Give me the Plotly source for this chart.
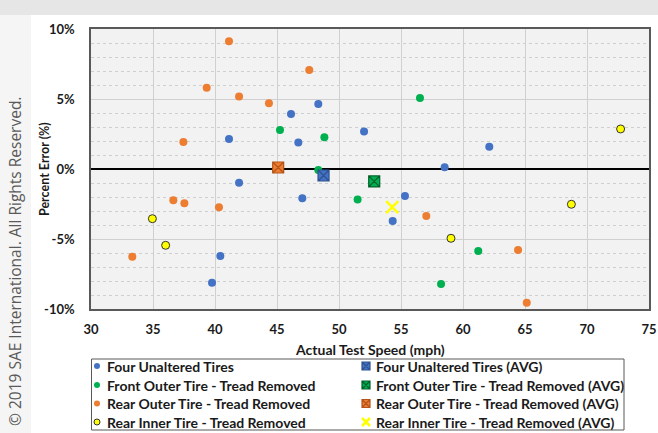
import numpy as np
import plotly.graph_objects as go

# Measured speed (mph) vs. speedometer percent error, per tire configuration
four_x = [48.33, 46.13, 41.13, 46.72, 52.02, 62.12, 58.52, 41.94, 47.04, 55.32, 54.33, 40.43, 39.76]
four_y = [4.64, 3.93, 2.14, 1.90, 2.67, 1.59, 0.12, -0.98, -2.09, -1.93, -3.71, -6.21, -8.12]

front_x = [45.24, 48.82, 48.33, 56.53, 51.50, 61.23, 58.23]
front_y = [2.79, 2.26, -0.07, 5.07, -2.17, -5.86, -8.21]

rear_outer_x = [41.13, 47.60, 39.33, 41.94, 44.35, 37.45, 36.64, 37.53, 40.32, 33.33, 57.04, 64.44, 65.14]
rear_outer_y = [9.12, 7.07, 5.81, 5.17, 4.69, 1.93, -2.24, -2.45, -2.74, -6.26, -3.36, -5.79, -9.55]

rear_inner_x = [72.71, 34.95, 36.02, 68.74, 59.03]
rear_inner_y = [2.86, -3.55, -5.45, -2.52, -4.95]

series_names = [
    "Four Unaltered Tires",
    "Front Outer Tire - Tread Removed",
    "Rear Outer Tire - Tread Removed",
    "Rear Inner Tire - Tread Removed",
]

x_ticks = [30, 35, 40, 45, 50, 55, 60, 65, 70, 75]
y_ticks = [-10, -5, 0, 5, 10]
y_tick_labels = ["-10%", "-5%", "0%", "5%", "10%"]

FONT = "Lato"
INK = "#1a1a1a"
W, H = 658, 433

# plot frame and key box, in page pixels
PLOT_L, PLOT_R, PLOT_T, PLOT_B = 91, 649, 29, 309
KEY_L, KEY_R, KEY_T, KEY_B = 91.5, 624, 359, 430
KEY_COL_X = [97, 366]
KEY_ROW_Y = [366, 385, 403.5, 422]
KEY_TEXT_GAP = 8


def fx(p):
    return p / W


def fy(p):
    return 1 - p / H


groups = [
    (four_x, four_y, "#4472C4", "#2F528F", None),
    (front_x, front_y, "#00B050", "#00602B", None),
    (rear_outer_x, rear_outer_y, "#ED7D31", "#B4541A", None),
    (rear_inner_x, rear_inner_y, "#FFFF00", "#3A3A3A", "inner"),
]


def dot_marker(col, kind, size):
    if kind == "inner":
        return dict(symbol="circle", size=size, color=col, line=dict(color="#333333", width=1))
    return dict(symbol="circle", size=size, color=col, line=dict(width=0))


def avg_marker(col, dark, kind, size):
    if kind == "inner":
        return dict(symbol="x-thin", size=size, color=col, line=dict(color=col, width=2.5))
    return dict(symbol="square-x", size=size, color=col, line=dict(color=dark, width=1.2))


fig = go.Figure()

# individual runs
for i, (xs, ys, col, dark, kind) in enumerate(groups):
    fig.add_trace(go.Scatter(
        x=xs, y=ys, mode="markers", name=series_names[i],
        marker=dot_marker(col, kind, 8),
    ))

# group averages
for i, (xs, ys, col, dark, kind) in enumerate(groups):
    fig.add_trace(go.Scatter(
        x=[float(np.mean(xs))], y=[float(np.mean(ys))], mode="markers",
        name=series_names[i] + " (AVG)",
        marker=avg_marker(col, dark, kind, 11 if kind is None else 12),
    ))

# key: two columns (runs | averages), one row per tire configuration
annotations = []
for i, (xs, ys, col, dark, kind) in enumerate(groups):
    row_y = KEY_ROW_Y[i]
    for c, (label, marker) in enumerate([
        (series_names[i], dot_marker(col, kind, 6)),
        (series_names[i] + " (AVG)", avg_marker(col, dark, kind, 8)),
    ]):
        fig.add_trace(go.Scatter(
            x=[KEY_COL_X[c]], y=[row_y], xaxis="x2", yaxis="y2",
            mode="markers", marker=marker, hoverinfo="skip", showlegend=False,
        ))
        annotations.append(dict(
            text=f"<b>{label}</b>", xref="x2", yref="y2",
            x=KEY_COL_X[c] + KEY_TEXT_GAP, y=row_y, xanchor="left", yanchor="middle",
            showarrow=False, font=dict(family=FONT, size=14, color=INK),
        ))

annotations += [
    dict(text="© 2019 SAE International. All Rights Reserved.",
         xref="paper", yref="paper", x=fx(15), y=fy(262),
         xanchor="center", yanchor="middle", textangle=-90, showarrow=False,
         font=dict(family="Open Sans", size=15.5, color="#5a5a5a")),
    dict(text="<b>Percent Error (%)</b>",
         xref="paper", yref="paper", x=fx(45), y=fy((PLOT_T + PLOT_B) / 2),
         xanchor="center", yanchor="middle", textangle=-90, showarrow=False,
         font=dict(family=FONT, size=12.5, color=INK)),
    dict(text="<b>Actual Test Speed (mph)</b>",
         xref="paper", yref="paper", x=fx((PLOT_L + PLOT_R) / 2), y=fy(349),
         xanchor="center", yanchor="middle", showarrow=False,
         font=dict(family=FONT, size=14, color=INK)),
]

shapes = [
    # page backdrop
    dict(type="rect", xref="paper", yref="paper", layer="below",
         x0=0, x1=1, y0=fy(0), y1=fy(15),
         fillcolor="#e6e6e6", line=dict(width=0)),
    dict(type="rect", xref="paper", yref="paper", layer="below",
         x0=0, x1=fx(31), y0=0, y1=fy(15),
         fillcolor="#f5f5f5", line=dict(width=0)),
    # key frame
    dict(type="rect", xref="paper", yref="paper", layer="below",
         x0=fx(KEY_L), x1=fx(KEY_R), y0=fy(KEY_B), y1=fy(KEY_T),
         fillcolor="#ffffff", line=dict(color="#595959", width=1)),
]

fig.update_layout(
    width=W, height=H,
    margin=dict(l=0, r=0, t=0, b=0, autoexpand=False),
    paper_bgcolor="#ffffff",
    plot_bgcolor="#f2f2f2",
    font=dict(family=FONT, size=12, color=INK),
    showlegend=False,
    shapes=shapes,
    annotations=annotations,
    xaxis=dict(
        domain=[fx(PLOT_L), fx(PLOT_R)], anchor="y",
        range=[30, 75], tickvals=x_ticks,
        showgrid=True, gridcolor="#d0d0d0", gridwidth=1,
        showline=True, mirror=True, linecolor="#595959", linewidth=1.5,
        zeroline=False, ticks="", ticklabelstandoff=8,
        tickfont=dict(family=FONT, size=13, weight="bold", color=INK),
    ),
    yaxis=dict(
        domain=[fy(PLOT_B), fy(PLOT_T)], anchor="x",
        range=[-10, 10], tickvals=y_ticks, ticktext=y_tick_labels,
        showgrid=True, gridcolor="#d0d0d0", gridwidth=1,
        minor=dict(dtick=1, showgrid=True, gridcolor="#cfcfcf", griddash="dot", gridwidth=1),
        showline=True, mirror=True, linecolor="#595959", linewidth=1.5,
        zeroline=True, zerolinecolor="#000000", zerolinewidth=2,
        ticks="", ticklabelstandoff=12,
        tickfont=dict(family=FONT, size=13, weight="bold", color=INK),
    ),
    # pixel-space axes hosting the key
    xaxis2=dict(domain=[fx(KEY_L), fx(KEY_R)], range=[KEY_L, KEY_R], anchor="y2",
                visible=False, fixedrange=True),
    yaxis2=dict(domain=[fy(KEY_B), fy(KEY_T)], range=[KEY_B, KEY_T], anchor="x2",
                visible=False, fixedrange=True),
)

fig.write_html("out.html")
